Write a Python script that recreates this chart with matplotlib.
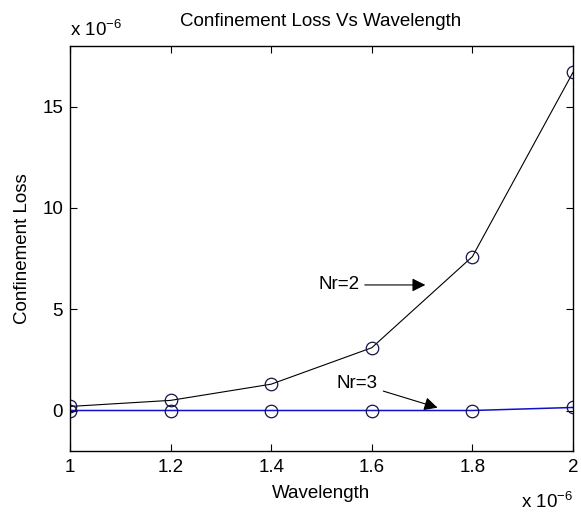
import matplotlib
matplotlib.use("Agg")
import matplotlib.pyplot as plt

plt.rcParams['font.family'] = ['Liberation Sans', 'DejaVu Sans']
FS = 13.5

# wavelength and loss, both in units of 1e-6
wavelength = [1.0, 1.2, 1.4, 1.6, 1.8, 2.0]
loss_nr2 = [0.2, 0.5, 1.3, 3.1, 7.6, 16.7]
loss_nr3 = [0.0, 0.0, 0.0, 0.0, 0.0, 0.15]

x_ticks = [1, 1.2, 1.4, 1.6, 1.8, 2]
x_tick_labels = ['1', '1.2', '1.4', '1.6', '1.8', '2']
y_ticks = [0, 5, 10, 15]

W, H = 581, 514
fig = plt.figure(figsize=(W / 100, H / 100), dpi=100)
ax = fig.add_axes([70 / W, 1 - 451 / H, 503 / W, 405 / H])

ax.plot(wavelength, loss_nr2, '-', color='black', lw=0.8)
ax.plot(wavelength, loss_nr3, '-', color='#1010c8', lw=1.1)
ax.plot(wavelength, loss_nr2, 'o', mfc='none', mec='#14144a', ms=9, mew=0.9)
ax.plot(wavelength, loss_nr3, 'o', mfc='none', mec='#14144a', ms=9, mew=0.9)

ax.set_xlim(1, 2)
ax.set_ylim(-2, 18)
ax.set_xticks(x_ticks)
ax.set_xticklabels(x_tick_labels)
ax.set_yticks(y_ticks)
ax.tick_params(direction='in', top=True, right=True, length=5, width=0.8,
               labelsize=FS)
ax.tick_params(axis='x', pad=6)
ax.tick_params(axis='y', pad=5)
for s in ax.spines.values():
    s.set_linewidth(1.0)

fig.text(321 / W, 1 - 22 / H, 'Confinement Loss Vs Wavelength', fontsize=FS,
         ha='center', va='center')
ax.set_xlabel('Wavelength', fontsize=FS, va='center')
ax.xaxis.set_label_coords(0.5, -(493 - 451) / 405)
ax.set_ylabel('Confinement Loss', fontsize=FS, va='center')
ax.yaxis.set_label_coords(-(70 - 23) / 503, 0.5)

# exponent markers on both axes
fig.text(70 / W, 1 - 36 / H, r'x 10$^{\mathregular{-6}}$', fontsize=FS,
         ha='left', va='baseline')
fig.text(573 / W, 1 - 508 / H, r'x 10$^{\mathregular{-6}}$', fontsize=FS,
         ha='right', va='baseline')

arrow = dict(arrowstyle='-|>', color='black', lw=0.8, mutation_scale=20)
ax.annotate('Nr=2', xy=(1.712, 6.2), xytext=(1.575, 6.2), fontsize=FS,
            ha='right', va='center', arrowprops=arrow)
ax.annotate('Nr=3', xy=(1.736, 0.1), xytext=(1.612, 1.35), fontsize=FS,
            ha='right', va='center', arrowprops=arrow)

fig.savefig('out.png', dpi=100)
